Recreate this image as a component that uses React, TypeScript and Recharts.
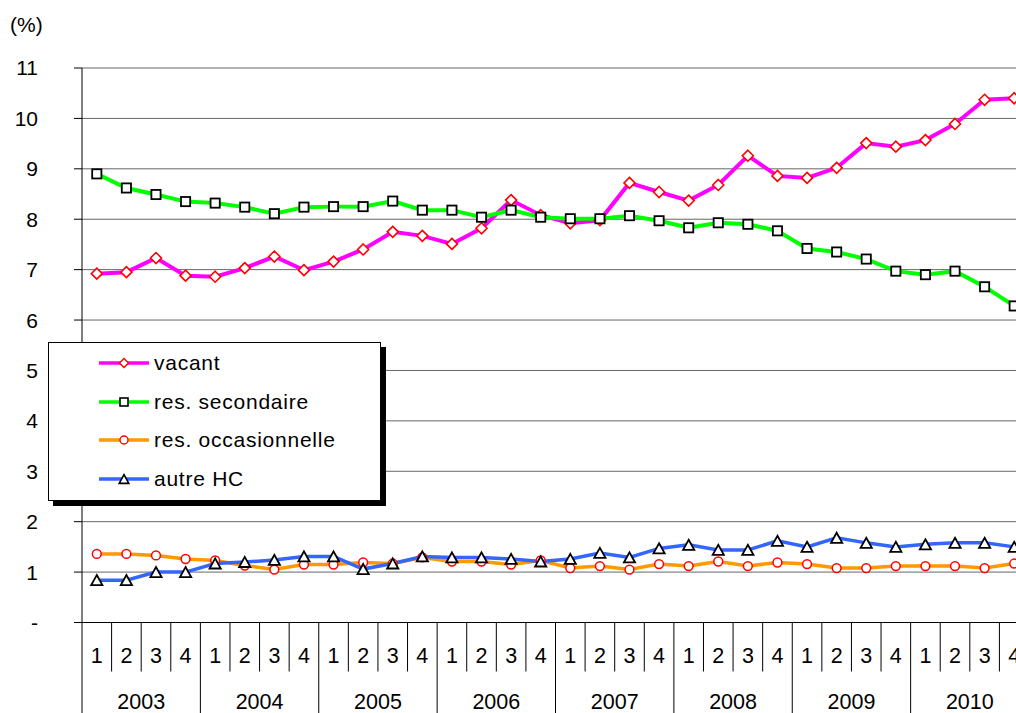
import { LineChart, Line, XAxis, YAxis, CartesianGrid, Legend } from 'recharts'

const years = ['2003', '2004', '2005', '2006', '2007', '2008', '2009', '2010']
const quarters = ['1', '2', '3', '4']

// taux en %, par trimestre 2003T1 .. 2010T4
const vacant = [6.92, 6.95, 7.23, 6.88, 6.86, 7.03, 7.26, 6.99, 7.16, 7.4, 7.75, 7.67, 7.51, 7.82, 8.38, 8.08, 7.92, 7.98, 8.72, 8.54, 8.37, 8.68, 9.26, 8.86, 8.82, 9.02, 9.51, 9.44, 9.57, 9.89, 10.37, 10.4]
const secondaire = [8.9, 8.62, 8.49, 8.35, 8.32, 8.24, 8.11, 8.24, 8.25, 8.25, 8.36, 8.18, 8.18, 8.04, 8.18, 8.04, 8.01, 8.01, 8.07, 7.97, 7.83, 7.93, 7.9, 7.77, 7.42, 7.35, 7.21, 6.97, 6.9, 6.97, 6.66, 6.28]
const occasionnelle = [1.36, 1.36, 1.33, 1.26, 1.23, 1.13, 1.05, 1.15, 1.15, 1.19, 1.17, 1.29, 1.21, 1.21, 1.15, 1.23, 1.08, 1.12, 1.05, 1.16, 1.12, 1.21, 1.12, 1.19, 1.16, 1.08, 1.08, 1.12, 1.12, 1.12, 1.08, 1.17]
const autreHC = [0.84, 0.84, 1.0, 1.0, 1.17, 1.2, 1.24, 1.31, 1.31, 1.06, 1.17, 1.31, 1.29, 1.29, 1.26, 1.21, 1.26, 1.38, 1.29, 1.47, 1.54, 1.44, 1.44, 1.62, 1.5, 1.68, 1.58, 1.5, 1.55, 1.58, 1.58, 1.5]

const yTicks = [0, 1, 2, 3, 4, 5, 6, 7, 8, 9, 10, 11]

const data = vacant.map((v, i) => ({
  q: quarters[i % 4],
  year: years[Math.floor(i / 4)],
  vacant: v,
  secondaire: secondaire[i],
  occasionnelle: occasionnelle[i],
  autre: autreHC[i]
}))

const FONT = '"Liberation Sans", Arial, sans-serif'
const YAXIS_W = 82
const PLOT_W = 947
const BAND = PLOT_W / data.length

const C_VACANT = '#ff00ff'
const C_SEC = '#00ff00'
const C_OCC = '#ff9900'
const C_AUTRE = '#3366ff'

const diamondPath = (cx: number, cy: number, r: number) =>
  `M${cx},${cy - r}L${cx + r},${cy}L${cx},${cy + r}L${cx - r},${cy}Z`
const trianglePath = (cx: number, cy: number, r: number) =>
  `M${cx},${cy - r}L${cx + r},${cy + r * 0.8}L${cx - r},${cy + r * 0.8}Z`

const DiamondDot = (props: any) => {
  const { cx, cy, index } = props
  if (cx == null || cy == null) return <g key={`dv-${index}`} />
  return <path key={`dv-${index}`} d={diamondPath(cx, cy, 5.5)} fill="#fff" stroke="#ff0000" strokeWidth={1.6} />
}
const SquareDot = (props: any) => {
  const { cx, cy, index } = props
  if (cx == null || cy == null) return <g key={`ds-${index}`} />
  return <rect key={`ds-${index}`} x={cx - 4.6} y={cy - 4.6} width={9.2} height={9.2} fill="#fff" stroke="#000" strokeWidth={1.8} />
}
const CircleDot = (props: any) => {
  const { cx, cy, index } = props
  if (cx == null || cy == null) return <g key={`dc-${index}`} />
  return <circle key={`dc-${index}`} cx={cx} cy={cy} r={4.4} fill="#fff" stroke="#ff0000" strokeWidth={1.5} />
}
const TriangleDot = (props: any) => {
  const { cx, cy, index } = props
  if (cx == null || cy == null) return <g key={`dt-${index}`} />
  return <path key={`dt-${index}`} d={trianglePath(cx, cy + 0.5, 5.6)} fill="#fff" stroke="#000" strokeWidth={1.8} />
}

const QuarterTick = (props: any) => {
  const { x, y, index, payload } = props
  const first = index % 4 === 0
  const left = x - BAND / 2
  return (
    <g>
      <line x1={left} y1={y} x2={left} y2={y + (first ? 100 : 49)} stroke="#000" strokeWidth={1} />
      <text x={x} y={y + 40} textAnchor="middle" fontSize={21.5} fontFamily={FONT} fill="#000">
        {payload.value}
      </text>
      {first && (
        <text x={x + 1.5 * BAND} y={y + 86} textAnchor="middle" fontSize={21.5} fontFamily={FONT} fill="#000">
          {years[Math.floor(index / 4)]}
        </text>
      )}
    </g>
  )
}

const legendItems = [
  { label: 'vacant', color: C_VACANT, marker: 'diamond' },
  { label: 'res. secondaire', color: C_SEC, marker: 'square' },
  { label: 'res. occasionnelle', color: C_OCC, marker: 'circle' },
  { label: 'autre HC', color: C_AUTRE, marker: 'triangle' }
]

const LegendBox = () => (
  <div style={{
    position: 'relative',
    width: 331,
    height: 157,
    background: '#fff',
    border: '1px solid #000',
    boxShadow: '5px 5px 0 #000',
    fontFamily: FONT,
    fontSize: 21,
    letterSpacing: '0.75px',
    color: '#000'
  }}>
    {legendItems.map((item, i) => (
      <div key={item.label} style={{ position: 'absolute', left: 50, top: 20 + i * 38.7 - 12, height: 24, display: 'flex', alignItems: 'center' }}>
        <svg width={52} height={14} style={{ display: 'block' }}>
          <line x1={0} y1={7} x2={50} y2={7} stroke={item.color} strokeWidth={3.5} />
          {item.marker === 'diamond' && <path d={diamondPath(25, 7, 4.5)} fill="#fff" stroke="#ff0000" strokeWidth={1.4} />}
          {item.marker === 'square' && <rect x={21} y={3} width={8} height={8} fill="#fff" stroke="#000" strokeWidth={1.6} />}
          {item.marker === 'circle' && <circle cx={25} cy={7} r={4} fill="#fff" stroke="#ff0000" strokeWidth={1.4} />}
          {item.marker === 'triangle' && <path d={trianglePath(25, 7.5, 4.8)} fill="#fff" stroke="#000" strokeWidth={1.6} />}
        </svg>
        <span style={{ marginLeft: 3, whiteSpace: 'nowrap' }}>{item.label}</span>
      </div>
    ))}
  </div>
)

const App = () => {
  return (
    <div style={{ position: 'fixed', left: 0, top: 0, width: 1016, height: 713, overflow: 'hidden', background: '#fff' }}>
      <div style={{ position: 'absolute', left: 10, top: 13, fontFamily: FONT, fontSize: 21, color: '#000' }}>(%)</div>
      <LineChart
        width={YAXIS_W + PLOT_W}
        height={713}
        data={data}
        margin={{ top: 68, right: 0, bottom: 0, left: 0 }}
        style={{ fontFamily: FONT }}
      >
        <CartesianGrid vertical={false} stroke="#666" />
        <XAxis
          dataKey="q"
          interval={0}
          height={90.5}
          padding={{ left: BAND / 2, right: BAND / 2 }}
          axisLine={{ stroke: '#000' }}
          tickLine={false}
          tickSize={0}
          tickMargin={0}
          tick={<QuarterTick />}
        />
        <YAxis
          width={YAXIS_W}
          domain={[0, 11]}
          ticks={yTicks}
          interval={0}
          tickSize={8}
          tickMargin={36}
          axisLine={{ stroke: '#000' }}
          tickLine={{ stroke: '#000' }}
          tick={{ fontSize: 21, fill: '#000', fontFamily: FONT }}
          tickFormatter={(v: number) => (v === 0 ? '-' : String(v))}
        />
        <Legend
          layout="horizontal"
          verticalAlign="middle"
          align="center"
          wrapperStyle={{ left: 48, top: 342, width: 340, height: 165 }}
          content={<LegendBox />}
        />
        <Line dataKey="vacant" stroke={C_VACANT} strokeWidth={4} dot={DiamondDot} activeDot={false} isAnimationActive={false} />
        <Line dataKey="secondaire" stroke={C_SEC} strokeWidth={4} dot={SquareDot} activeDot={false} isAnimationActive={false} />
        <Line dataKey="occasionnelle" stroke={C_OCC} strokeWidth={3.5} dot={CircleDot} activeDot={false} isAnimationActive={false} />
        <Line dataKey="autre" stroke={C_AUTRE} strokeWidth={3.5} dot={TriangleDot} activeDot={false} isAnimationActive={false} />
      </LineChart>
    </div>
  )
}

export default App
